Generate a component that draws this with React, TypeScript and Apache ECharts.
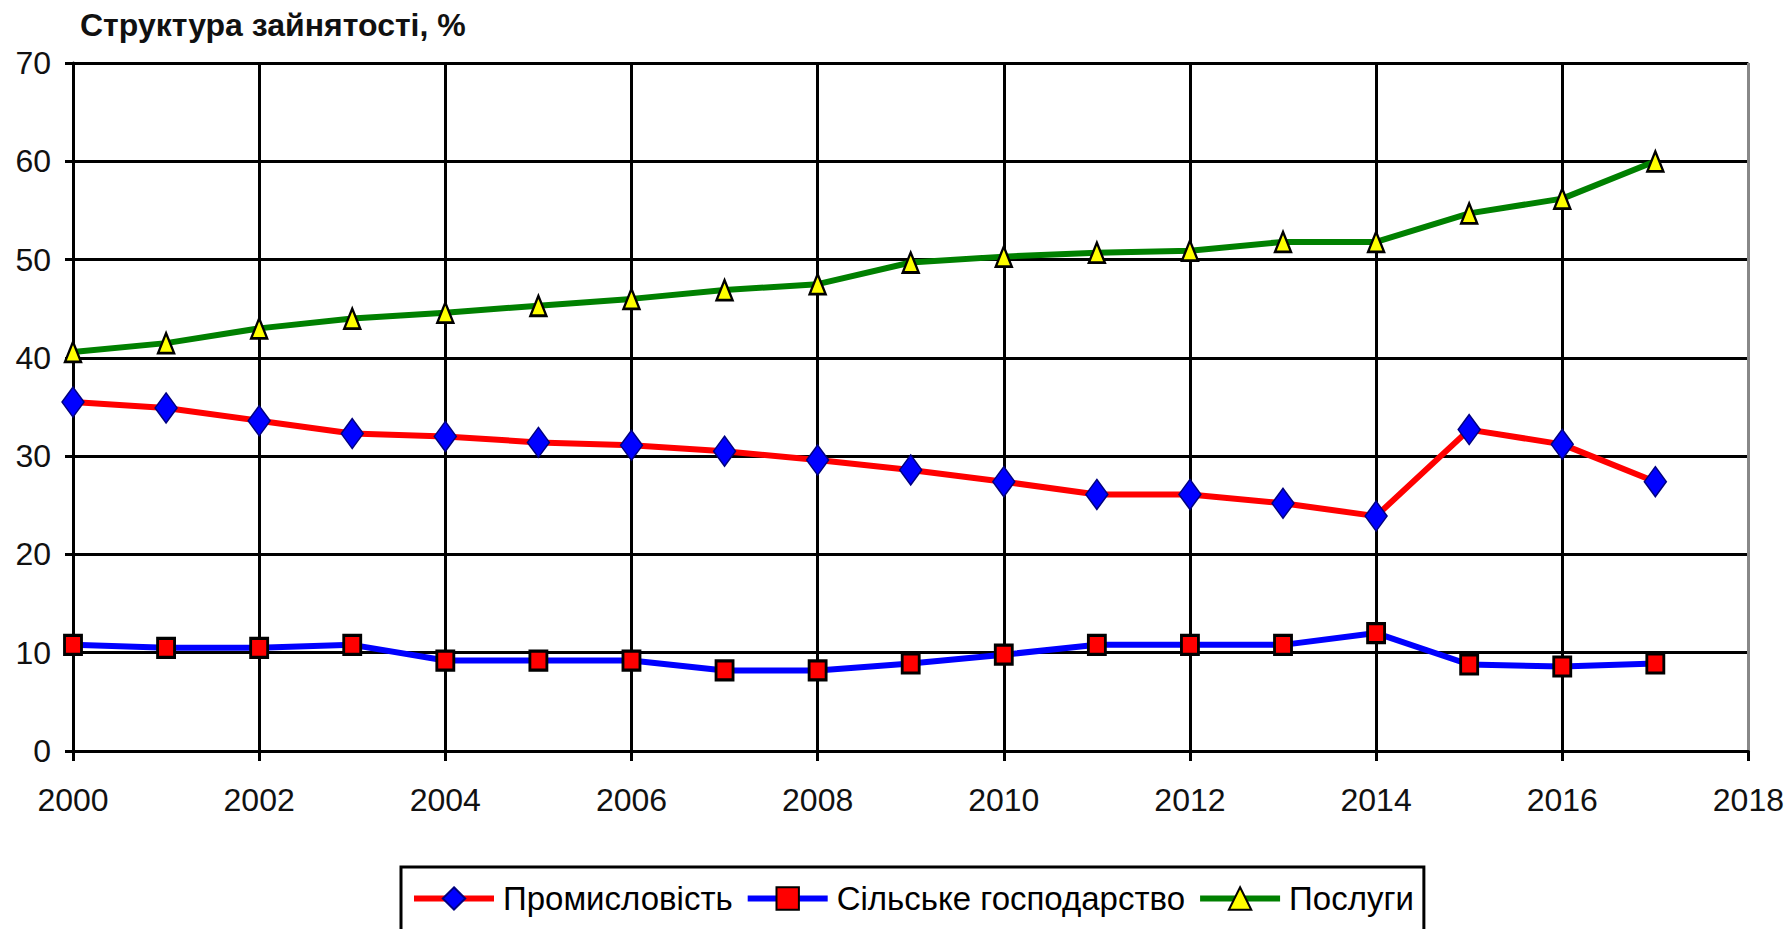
import React, { useEffect, useRef } from "react";
import * as echarts from "echarts";

const years = [2000, 2001, 2002, 2003, 2004, 2005, 2006, 2007, 2008, 2009, 2010, 2011, 2012, 2013, 2014, 2015, 2016, 2017];
const industry = [35.5, 34.9, 33.6, 32.3, 32.0, 31.4, 31.1, 30.5, 29.6, 28.6, 27.4, 26.1, 26.1, 25.2, 23.9, 32.7, 31.2, 27.4];
const agriculture = [10.8, 10.5, 10.5, 10.8, 9.2, 9.2, 9.2, 8.2, 8.2, 8.9, 9.8, 10.8, 10.8, 10.8, 12.0, 8.8, 8.6, 8.9];
const services = [40.6, 41.5, 43.0, 44.0, 44.6, 45.3, 46.0, 46.9, 47.5, 49.7, 50.3, 50.7, 50.9, 51.8, 51.8, 54.7, 56.2, 60.0];
const seriesNames = ["Промисловість", "Сільське господарство", "Послуги"];
const titleText = "Структура зайнятості, %";

const FONT = "Liberation Sans, Arial, sans-serif";

export default function App() {
  const ref = useRef<HTMLDivElement>(null);
  useEffect(() => {
    document.body.style.margin = "0";
    const chart = echarts.init(ref.current!, null, { renderer: "svg" });
    const pair = (arr: number[]) => years.map((y, i) => [y, arr[i]]);
    chart.setOption({
      animation: false,
      backgroundColor: "#fff",
      title: {
        text: titleText,
        left: 75,
        top: 4,
        textStyle: { fontFamily: FONT, fontSize: 32, fontWeight: "bold", color: "#111" },
      },
      grid: { left: 73, right: 38, top: 63, bottom: 929 - 751 },
      xAxis: {
        type: "value",
        min: 2000,
        max: 2018,
        interval: 2,
        axisLine: { show: true, lineStyle: { color: "#000", width: 3 } },
        axisTick: { show: true, length: 10, lineStyle: { color: "#000", width: 3 } },
        axisLabel: { margin: 33, fontFamily: FONT, fontSize: 32, color: "#111", formatter: (v: number) => String(v) },
        splitLine: {
          show: true,
          lineStyle: { color: ["#000", "#000", "#000", "#000", "#000", "#000", "#000", "#000", "#000", "#888"], width: 3 },
        },
      },
      yAxis: {
        type: "value",
        min: 0,
        max: 70,
        interval: 10,
        axisLine: { show: true, lineStyle: { color: "#000", width: 3 } },
        axisTick: { show: true, length: 8, lineStyle: { color: "#000", width: 3 } },
        axisLabel: { margin: 22, fontFamily: FONT, fontSize: 32, color: "#111" },
        splitLine: {
          show: true,
          lineStyle: { color: ["#000", "#000", "#000", "#000", "#000", "#000", "#000", "#000", "#888"], width: 3 },
        },
      },
      legend: {
        left: 401,
        top: 867,
        orient: "horizontal",
        itemGap: 12,
        itemWidth: 80,
        itemHeight: 28,
        padding: [15, 10, 60, 10],
        borderColor: "#000",
        borderWidth: 3,
        lineStyle: { width: 6 },
        textStyle: { fontFamily: FONT, fontSize: 33, color: "#000", padding: [0, 0, 0, 4] },
        data: seriesNames,
      },
      series: [
        {
          name: seriesNames[0],
          type: "line",
          data: pair(industry),
          symbol: "diamond",
          symbolSize: [22, 30],
          lineStyle: { color: "#ff0000", width: 6 },
          itemStyle: { color: "#0000ff", borderColor: "#000080", borderWidth: 1.5 },
          z: 3,
        },
        {
          name: seriesNames[1],
          type: "line",
          data: pair(agriculture),
          symbol: "rect",
          symbolSize: [17, 19],
          lineStyle: { color: "#0000ff", width: 6 },
          itemStyle: { color: "#ff0000", borderColor: "#000", borderWidth: 3 },
          z: 3,
        },
        {
          name: seriesNames[2],
          type: "line",
          data: pair(services),
          symbol: "triangle",
          symbolSize: [16, 20],
          lineStyle: { color: "#008000", width: 6 },
          itemStyle: { color: "#ffff00", borderColor: "#000", borderWidth: 2.5 },
          z: 3,
        },
      ],
    });
    return () => chart.dispose();
  }, []);
  return <div ref={ref} style={{ position: "absolute", left: 0, top: 0, width: 1787, height: 929 }} />;
}
